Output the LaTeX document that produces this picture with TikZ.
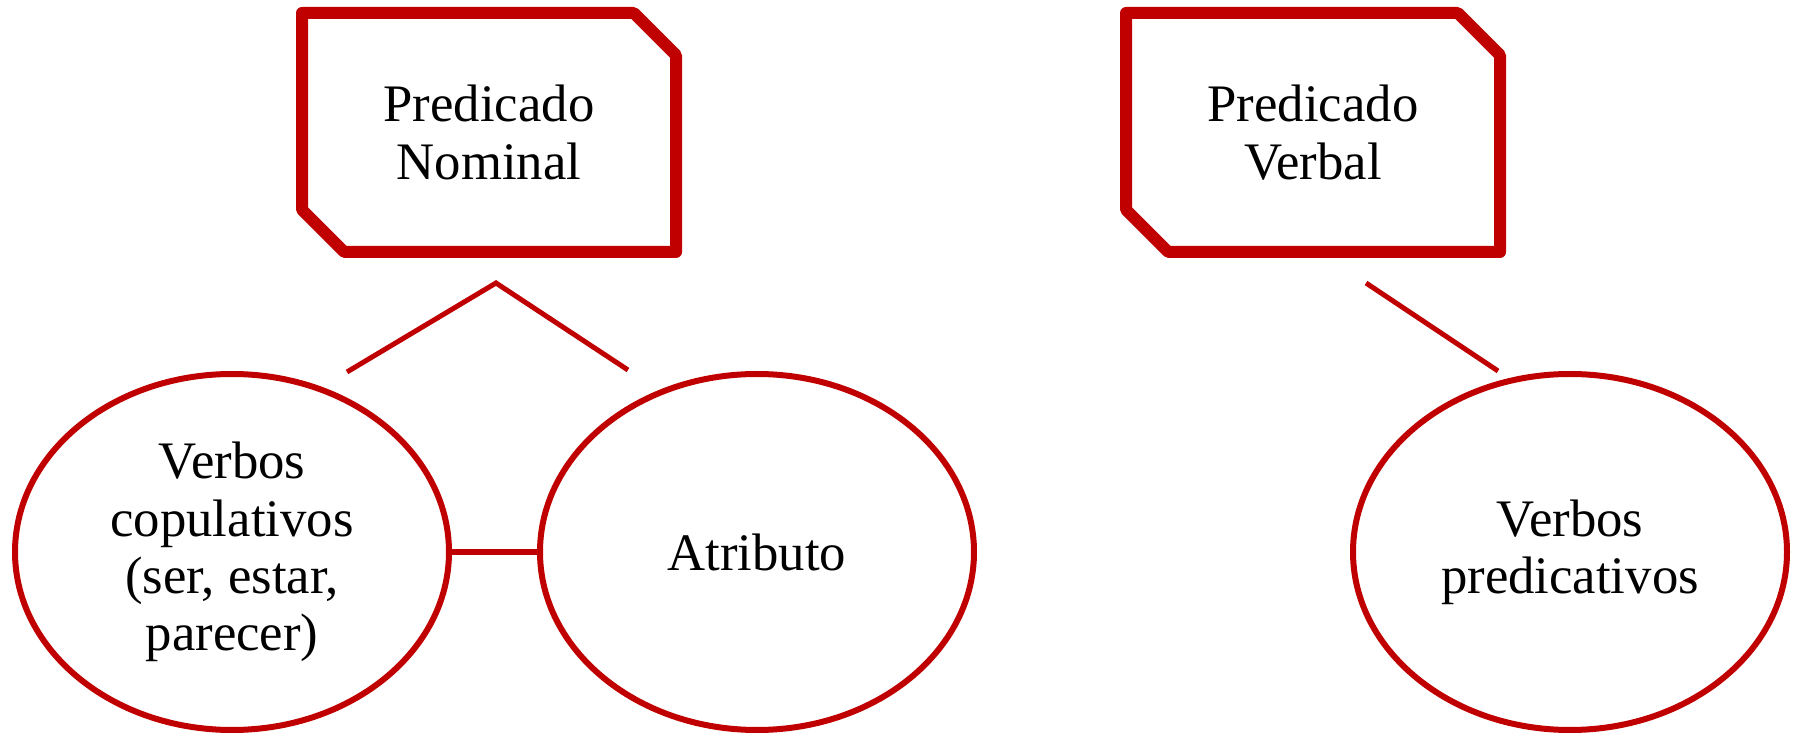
\documentclass[tikz,border=0pt]{standalone}
\usepackage{fontspec}
\setmainfont{Liberation Serif}
\usepackage{tikz}
\usetikzlibrary{shapes.geometric,shapes.misc}
\definecolor{rojo}{RGB}{192,0,0}

\begin{document}
\begin{tikzpicture}[
  caja/.style={draw=rojo,line width=0.12cm,line join=round,chamfered rectangle,
    chamfered rectangle corners={north east,south west},chamfered rectangle xsep=0.315cm,
    minimum width=3.74cm,minimum height=2.39cm,inner sep=0pt,align=center,
    font=\fontsize{15}{16.3}\selectfont},
  globo/.style={draw=rojo,line width=0.06cm,ellipse,minimum width=4.34cm,
    minimum height=3.56cm,inner sep=0pt,align=center,font=\fontsize{15}{16.3}\selectfont},
  rama/.style={draw=rojo,line width=0.05cm}]
\useasboundingbox (0,0) rectangle (17.95,7.36);
\node (PN) [caja] at(4.89,6.035) {Predicado\\Nominal};
\node (PV) [caja] at(13.13,6.035) {Predicado\\Verbal};
\node (cop) [globo] at(2.32,1.84) {Verbos\\copulativos\\(ser, estar,\\parecer)};
\node (atr) [globo] at(7.57,1.84) {Atributo};
\node (pred) [globo] at(15.70,1.84) {Verbos\\predicativos};
\coordinate (pico) at(4.96,4.53);
\coordinate (ramaA) at(3.47,3.64);
\coordinate (ramaB) at(6.28,3.66);
\coordinate (picoV) at(13.66,4.53);
\coordinate (ramaV) at(14.98,3.65);
\draw [rama] (ramaA) -- (pico) -- (ramaB);
\draw [rama] (picoV) -- (ramaV);
\draw [rama,line width=0.055cm] (cop.east) -- (atr.west);
\end{tikzpicture}
\end{document}
